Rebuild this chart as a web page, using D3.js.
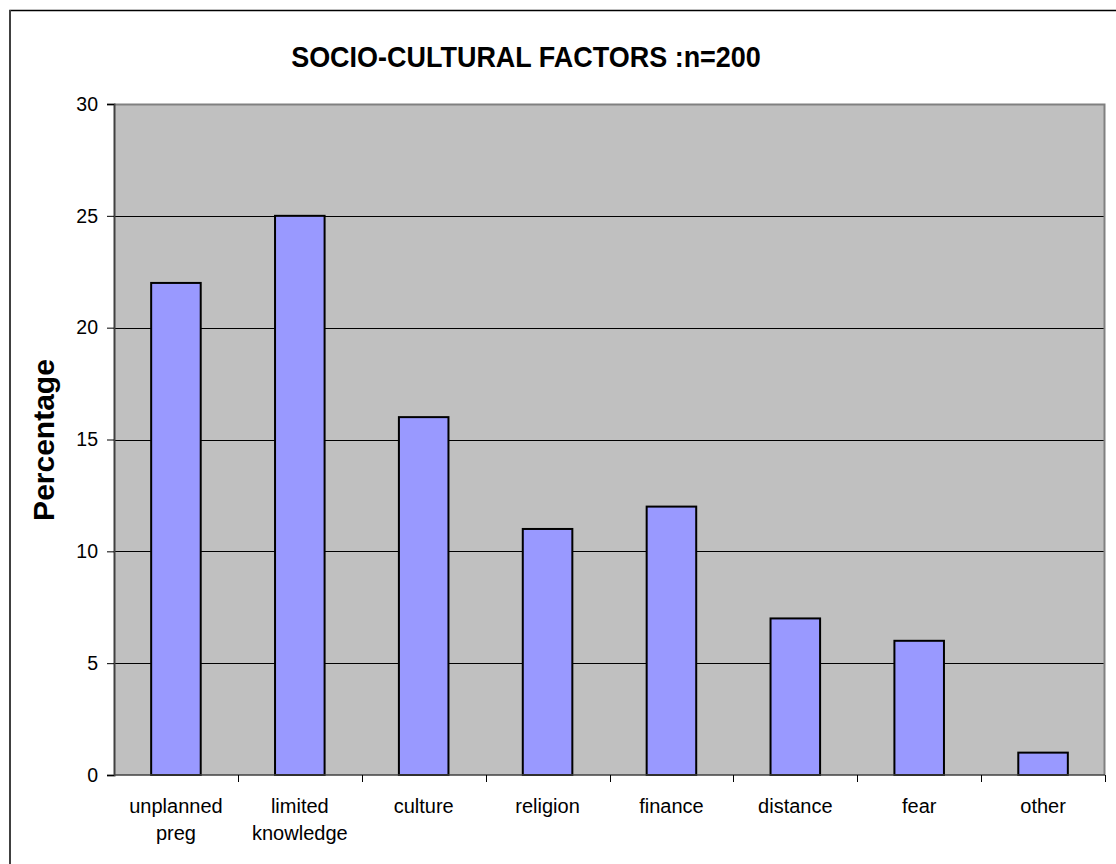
<!DOCTYPE html>
<html>
<head>
<meta charset="utf-8">
<script src="https://cdn.jsdelivr.net/npm/d3@7"></script>
<style>
  html, body { margin: 0; padding: 0; background: #fff; }
  svg { display: block; }
  text { font-family: Arial, "Liberation Sans", sans-serif; fill: #000; }
</style>
</head>
<body>
<svg id="chart" width="1116" height="864"></svg>
<script>
// Socio-cultural factors, percentage of respondents (n=200)
const categories = [
  ["unplanned", "preg"],
  ["limited", "knowledge"],
  ["culture"],
  ["religion"],
  ["finance"],
  ["distance"],
  ["fear"],
  ["other"]
];
const percentages = [22, 25, 16, 11, 12, 7, 6, 1];
const yTicks = [0, 5, 10, 15, 20, 25, 30];
const titleText = "SOCIO-CULTURAL FACTORS :n=200";
const yLabel = "Percentage";

const svg = d3.select("#chart");
const plot = { left: 114, right: 1105, top: 104, bottom: 775 };

// outer chart frame (continues past the right and bottom edges)
svg.append("rect")
  .attr("x", 10).attr("y", 10.5)
  .attr("width", 1200).attr("height", 1000)
  .attr("fill", "#fff").attr("stroke", "#000").attr("stroke-width", 1.5);
svg.append("line")
  .attr("x1", 10).attr("x2", 10).attr("y1", 10).attr("y2", 864)
  .attr("stroke", "#404040").attr("stroke-width", 2);

const keys = categories.map((c, i) => i);
const x = d3.scaleBand().domain(keys).range([plot.left, plot.right]).paddingInner(0).paddingOuter(0);
const y = d3.scaleLinear().domain([0, 30]).range([plot.bottom, plot.top]);

// plot background
svg.append("rect")
  .attr("x", plot.left).attr("y", plot.top)
  .attr("width", plot.right - plot.left).attr("height", plot.bottom - plot.top)
  .attr("fill", "#c0c0c0");

// horizontal gridlines
svg.append("g")
  .selectAll("line")
  .data(yTicks.filter(t => t > 0 && t < 30))
  .join("line")
  .attr("x1", plot.left).attr("x2", plot.right)
  .attr("y1", d => Math.round(y(d)) + 0.5).attr("y2", d => Math.round(y(d)) + 0.5)
  .attr("stroke", "#000").attr("stroke-width", 1);

// plot border: top and right in gray
svg.append("path")
  .attr("d", `M${plot.left},${plot.top + 0.5}H${plot.right - 0.5}V${plot.bottom}`)
  .attr("fill", "none").attr("stroke", "#808080").attr("stroke-width", 2);

// bars
const barW = x.bandwidth() / 2.5;
svg.append("g")
  .selectAll("rect")
  .data(percentages)
  .join("rect")
  .attr("x", (d, i) => x(i) + (x.bandwidth() - barW) / 2)
  .attr("y", d => y(d))
  .attr("width", barW)
  .attr("height", d => y(0) - y(d))
  .attr("fill", "#9999ff")
  .attr("stroke", "#000")
  .attr("stroke-width", 2);

// y axis
const yAxis = d3.axisLeft(y).tickValues(yTicks).tickSize(7).tickPadding(9);
const gy = svg.append("g").attr("transform", `translate(${plot.left},0)`).call(yAxis);
gy.select(".domain").attr("stroke", "#404040").attr("stroke-width", 2);
gy.selectAll(".tick line").attr("stroke", "#000");
gy.selectAll(".tick text")
  .style("font-family", "Arial, 'Liberation Sans', sans-serif")
  .style("font-size", "19.5px").attr("fill", "#000");

// x axis: ticks at category boundaries
const gx = svg.append("g");
gx.append("line")
  .attr("x1", plot.left).attr("x2", plot.right)
  .attr("y1", plot.bottom).attr("y2", plot.bottom)
  .attr("stroke", "#404040").attr("stroke-width", 1.5);
const bounds = keys.map(k => x(k)).concat([x(keys[keys.length - 1]) + x.bandwidth()]);
gx.selectAll("line.tk")
  .data(bounds.slice(1))
  .join("line").attr("class", "tk")
  .attr("x1", d => Math.round(d) + 0.5).attr("x2", d => Math.round(d) + 0.5)
  .attr("y1", plot.bottom).attr("y2", plot.bottom + 7)
  .attr("stroke", "#000");

// category labels
const lbl = gx.selectAll("text.cat")
  .data(categories)
  .join("text").attr("class", "cat")
  .attr("text-anchor", "middle")
  .style("font-size", "20px");
lbl.each(function (lines, i) {
  const t = d3.select(this);
  lines.forEach((s, j) => {
    t.append("tspan")
      .attr("x", x(i) + x.bandwidth() / 2)
      .attr("y", 813 + j * 27)
      .text(s);
  });
});

// title (slightly condensed bold face)
svg.append("text")
  .attr("transform", "translate(526,67) scale(0.93,1)")
  .attr("text-anchor", "middle")
  .style("font-size", "29px").style("font-weight", "bold")
  .text(titleText);

// y axis title
svg.append("text")
  .attr("transform", `translate(54,440) rotate(-90)`)
  .attr("text-anchor", "middle")
  .style("font-size", "30px").style("font-weight", "bold")
  .text(yLabel);
</script>
</body>
</html>
